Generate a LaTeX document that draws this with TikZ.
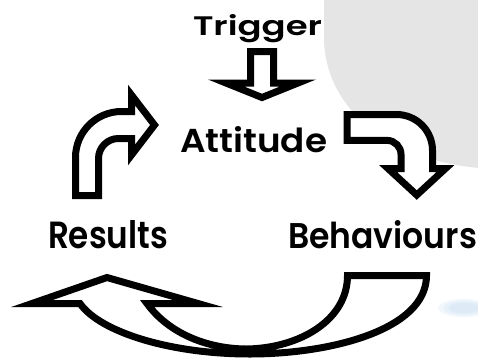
\documentclass[tikz,border=0pt]{standalone}
\usepackage{fontspec}
\setmainfont{Poppins}[BoldFont={Poppins SemiBold}]
\usepackage{graphicx}
\tikzset{
  blockarrow/.style={draw=black, fill=white, line width=7pt, line join=miter, miter limit=12},
  lbl/.style={anchor=base west, inner sep=0pt, outer sep=0pt, font=\bfseries}
}
\begin{document}
\begin{tikzpicture}[x=1pt,y=-1pt]
\useasboundingbox (0,0) rectangle (478,361);
% background shapes
\fill[black!10] (324,-1) -- (324,40) .. controls (326,110) and (390,160) .. (479,168) -- (479,-1) -- cycle;
\foreach \r/\o in {1/0.25,0.8/0.3,0.6/0.35}{
  \fill[fill={rgb,255:red,205;green,225;blue,243}, opacity=\o] (464,308) ellipse ({26*\r} and {9*\r});
}
% labels
\node[lbl] (trig) at (193,35) {\resizebox{129pt}{21pt}{Trigger}};
\node[lbl] (att) at (180,152) {\resizebox{147pt}{26pt}{Attitude}};
\node[lbl] (res) at (48,248) {\resizebox{120pt}{28pt}{Results}};
\node[lbl] (beh) at (288,248) {\resizebox{189pt}{28pt}{Behaviours}};
% trigger arrow
\draw[blockarrow] (250.5,51.5) -- (273.5,51.5) -- (273.5,83) -- (298,83) -- (262,97.5) -- (226,83) -- (250.5,83) -- cycle;
% left arrow (results -> attitude)
\draw[blockarrow] (75.5,195.5) -- (75.5,157.5) arc[start angle=180, end angle=270, radius=46] -- (131.5,111.5) -- (131.5,95) -- (154.5,125) -- (131.5,155) -- (131.5,138.5) -- (118.5,138.5) arc[start angle=270, end angle=180, radius=20] -- (98.5,195.5) -- cycle;
% right arrow (attitude -> behaviours)
\draw[blockarrow] (347,114.5) -- (396.5,114.5) arc[start angle=-90, end angle=0, radius=36] -- (432.5,168.5) -- (445.5,168.5) -- (416.75,195) -- (388,168.5) -- (401,168.5) -- (401,154.4) arc[start angle=0, end angle=-90, radius=14] -- (347,140.4) -- cycle;
% bottom arrow (behaviours -> results)
\draw[blockarrow] (347.5,275.5) -- (426.5,275.5) .. controls (426.5,330) and (330,354) .. (250,354) .. controls (170,354) and (100,332) .. (80,303.5) -- (32,303.5) -- (107,277.5) -- (198,303.5) -- (147,303.5) .. controls (170,335) and (210,349) .. (247,349) .. controls (300,348) and (347.5,320) .. cycle;
\end{tikzpicture}
\end{document}
